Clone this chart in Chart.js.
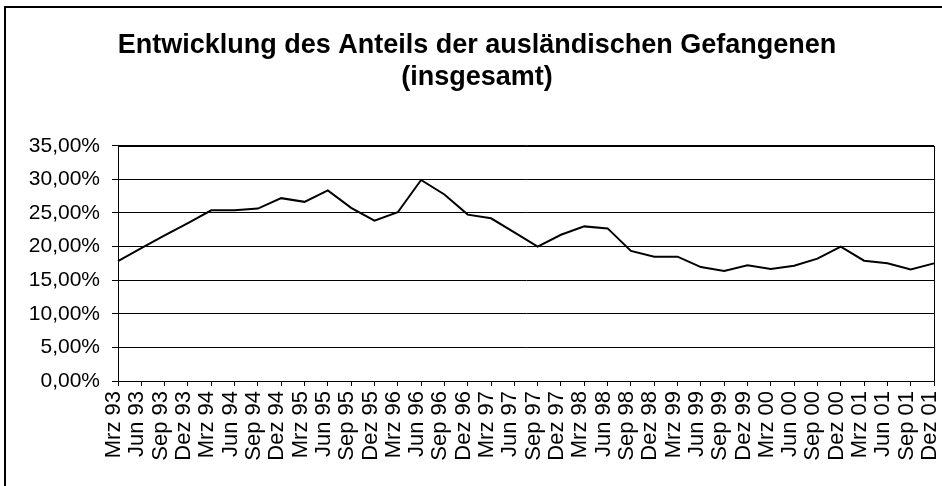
<!DOCTYPE html>
<html>
<head>
<meta charset="utf-8">
<script src="https://cdn.jsdelivr.net/npm/chart.js@4/dist/chart.umd.min.js"></script>
<style>
  html, body { margin: 0; padding: 0; background: #fff; }
  #wrap { width: 942px; height: 486px; position: relative; }
</style>
</head>
<body>
<div id="wrap"><canvas id="chartAnteil"></canvas></div>
<script>
var quartale = [
  'Mrz 93', 'Jun 93', 'Sep 93', 'Dez 93',
  'Mrz 94', 'Jun 94', 'Sep 94', 'Dez 94',
  'Mrz 95', 'Jun 95', 'Sep 95', 'Dez 95',
  'Mrz 96', 'Jun 96', 'Sep 96', 'Dez 96',
  'Mrz 97', 'Jun 97', 'Sep 97', 'Dez 97',
  'Mrz 98', 'Jun 98', 'Sep 98', 'Dez 98',
  'Mrz 99', 'Jun 99', 'Sep 99', 'Dez 99',
  'Mrz 00', 'Jun 00', 'Sep 00', 'Dez 00',
  'Mrz 01', 'Jun 01', 'Sep 01', 'Dez 01'
]

// Anteil auslaendischer Gefangener in Prozent
var anteil = [
  17.85, 19.75, 21.65, 23.5,
  25.4, 25.4, 25.65, 27.2,
  26.65, 28.35, 25.75, 23.85,
  25.1, 29.9, 27.75, 24.75,
  24.2, 22.1, 20.0, 21.75,
  23.0, 22.7, 19.35, 18.5,
  18.5, 16.95, 16.35, 17.2,
  16.65, 17.15, 18.2, 20.0,
  17.9, 17.5, 16.6, 17.5
]

var yMin = 0
var yMax = 35
var yStep = 5

var titelZeilen = ['Entwicklung des Anteils der ausländischen Gefangenen', '(insgesamt)']

var schrift = "'Liberation Sans', Arial, sans-serif"

// Rahmen um das ganze Diagramm und um die Zeichenflaeche
var rahmen = {
  id: 'rahmen',
  beforeDraw: function (chart) {
    var ctx = chart.ctx
    ctx.save()
    ctx.fillStyle = '#fff'
    ctx.fillRect(0, 0, chart.width, chart.height)
    ctx.strokeStyle = '#000'
    ctx.lineWidth = 2
    ctx.strokeRect(5, 7, 2000, 2000)
    ctx.restore()
  },
  afterDatasetsDraw: function (chart) {
    var a = chart.chartArea
    var ctx = chart.ctx
    ctx.save()
    ctx.strokeStyle = '#000'
    ctx.lineWidth = 1
    ctx.strokeRect(Math.round(a.left) + 0.5, Math.round(a.top) + 0.5,
      Math.round(a.right - a.left), Math.round(a.bottom - a.top))
    ctx.restore()
  }
}

var ctx = document.getElementById('chartAnteil').getContext('2d')

var chart = new Chart(ctx, {
  type: 'line',
  data: {
    labels: quartale,
    datasets: [
      {
        label: 'Anteil',
        data: anteil,
        borderColor: '#000',
        borderWidth: 2,
        pointRadius: 0,
        tension: 0,
        fill: false,
      },
    ],
  },
  options: {
    responsive: true,
    maintainAspectRatio: false,
    animation: false,
    layout: { padding: { left: 20, right: 8, top: 0, bottom: 0 } },
    plugins: {
      legend: { display: false },
      tooltip: { enabled: false },
      title: {
        display: true,
        text: titelZeilen,
        color: '#000',
        font: { family: schrift, size: 27, weight: 'bold', lineHeight: 1.18 },
        padding: { top: 30, bottom: 52 },
      },
    },
    scales: {
      x: {
        offset: false,
        grid: { display: true, drawOnChartArea: false, drawTicks: true, tickLength: 5, color: '#000' },
        border: { display: true, color: '#000', width: 1 },
        ticks: {
          autoSkip: false,
          maxRotation: 90,
          minRotation: 90,
          padding: 5,
          labelOffset: -4,
          color: '#000',
          font: { family: schrift, size: 22 },
        },
        afterFit: function (scale) {
          scale.height = 105
          scale.paddingLeft = 0
          scale.paddingRight = 0
        },
      },
      y: {
        min: yMin,
        max: yMax,
        grid: { color: '#000', lineWidth: 1, tickLength: 6, drawTicks: true },
        border: { display: true, color: '#000', width: 1 },
        ticks: {
          stepSize: yStep,
          padding: 12,
          color: '#000',
          font: { family: schrift, size: 21 },
          callback: function (v) { return v.toFixed(2).replace('.', ',') + '%' },
        },
        afterFit: function (scale) {
          scale.width = 98
          scale.paddingTop = 0
          scale.paddingBottom = 0
        },
      },
    },
  },
  plugins: [rahmen],
})
</script>
</body>
</html>
